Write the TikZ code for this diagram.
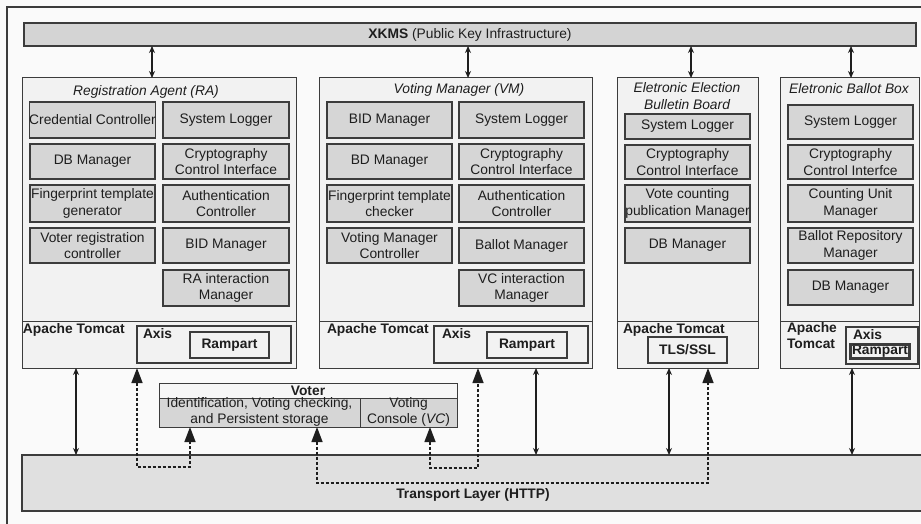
\documentclass[tikz,border=0pt]{standalone}
\usepackage{fontspec}
\setmainfont{Liberation Sans}
\usetikzlibrary{arrows.meta,calc}
\definecolor{bg}{HTML}{FAFAFA}
\definecolor{boxfill}{HTML}{F2F2F2}
\definecolor{subfill}{HTML}{D6D6D6}
\definecolor{barfill}{HTML}{D4D4D4}
\definecolor{transfill}{HTML}{E0E0E0}
\definecolor{headfill}{HTML}{F6F6F6}
\definecolor{edge}{HTML}{3C3C3C}
\definecolor{ink}{HTML}{1E1E1E}
\newcommand\myfs{\fontsize{13.8}{16.5}\selectfont}
\newcommand\rn[7]{\node[#2, minimum width={#5-#3}, minimum height={#6-#4}] (#1) at ({(#3+#5)/2},{(#4+#6)/2}) {#7};}
\begin{document}
\begin{tikzpicture}[x=1pt,y=-1pt,
  every node/.style={inner sep=0pt, outer sep=0pt, text=ink, font=\myfs, align=center},
  bigbox/.style={draw=edge, fill=boxfill, line width=1pt},
  subbox/.style={draw=edge, fill=subfill, line width=1.3pt},
  plainbox/.style={draw=edge, fill=boxfill, line width=1.2pt},
  bar/.style={draw=edge, fill=barfill, line width=1.2pt},
  trans/.style={draw=edge, fill=transfill, line width=1.2pt},
  headbox/.style={draw=edge, fill=headfill, line width=1pt},
  cellbox/.style={draw=edge, fill=subfill, line width=1pt},
  sepline/.style={draw=edge, line width=1pt},
  titletext/.style={font=\myfs\itshape},
  boldtext/.style={font=\myfs\bfseries},
  dblarrow/.style={line width=1.3pt, draw=ink, {Stealth[length=7pt,width=6pt]}-{Stealth[length=7pt,width=6pt]}},
  dasharrow/.style={line width=1.4pt, draw=ink, dash pattern=on 3pt off 2pt, {Triangle[length=15pt,width=11pt]}-{Triangle[length=15pt,width=11pt]}}
]
\useasboundingbox (0,0) rectangle (921,524);
\clip (0,0) rectangle (921,524);
\fill[bg] (0,0) rectangle (921,524);
\draw[edge, line width=1.2pt] (7,540) -- (7,7) -- (940,7);

% XKMS bar
\rn{xkms}{bar}{24}{23}{916}{46}{\textbf{XKMS} (Public Key Infrastructure)}

% Registration Agent
\rn{ra}{bigbox}{22}{78}{296}{368}{}
\draw[sepline] (ra.west |- 0,321) -- (ra.east |- 0,321);
\node[titletext] (ratitle) at (146,92) {Registration Agent (RA)};
\rn{ra1}{subbox}{30}{102}{155}{138}{Credential Controller}
\rn{ra2}{subbox}{30}{144}{155}{179}{DB Manager}
\rn{ra3}{subbox}{30}{185}{155}{222}{Fingerprint template\\generator}
\rn{ra4}{subbox}{30}{228}{155}{263}{Voter registration\\controller}
\rn{ra5}{subbox}{163}{102}{289}{138}{System Logger}
\rn{ra6}{subbox}{163}{144}{289}{179}{Cryptography\\Control Interface}
\rn{ra7}{subbox}{163}{185}{289}{222}{Authentication\\Controller}
\rn{ra8}{subbox}{163}{228}{289}{263}{BID Manager}
\rn{ra9}{subbox}{163}{270}{289}{306}{RA interaction\\Manager}
\node[boldtext, anchor=base west] (ratc) at (23,333) {Apache Tomcat};
\rn{raaxis}{plainbox}{137}{326}{291}{363}{}
\node[boldtext, anchor=base west] (raaxist) at (143,338) {Axis};
\rn{raramp}{plainbox}{190}{332}{269}{358}{\bfseries Rampart}

% Voting Manager
\rn{vm}{bigbox}{319}{78}{592}{368}{}
\draw[sepline] (vm.west |- 0,321) -- (vm.east |- 0,321);
\node[titletext] (vmtitle) at (459,90) {Voting Manager (VM)};
\rn{vm1}{subbox}{327}{102}{452}{138}{BID Manager}
\rn{vm2}{subbox}{327}{144}{452}{179}{BD Manager}
\rn{vm3}{subbox}{327}{185}{452}{222}{Fingerprint template\\checker}
\rn{vm4}{subbox}{327}{228}{452}{263}{Voting Manager\\Controller}
\rn{vm5}{subbox}{459}{102}{584}{138}{System Logger}
\rn{vm6}{subbox}{459}{144}{584}{179}{Cryptography\\Control Interface}
\rn{vm7}{subbox}{459}{185}{584}{222}{Authentication\\Controller}
\rn{vm8}{subbox}{459}{228}{584}{263}{Ballot Manager}
\rn{vm9}{subbox}{459}{270}{584}{306}{VC interaction\\Manager}
\node[boldtext, anchor=base west] (vmtc) at (327,333) {Apache Tomcat};
\rn{vmaxis}{plainbox}{434}{326}{588}{363}{}
\node[boldtext, anchor=base west] (vmaxist) at (442,338) {Axis};
\rn{vmramp}{plainbox}{487}{332}{567}{358}{\bfseries Rampart}

% Eletronic Election Bulletin Board
\rn{eeb}{bigbox}{617}{78}{758}{368}{}
\draw[sepline] (eeb.west |- 0,321) -- (eeb.east |- 0,321);
\node[titletext] (eebtitle) at (687,96) {Eletronic Election\\Bulletin Board};
\rn{eeb1}{subbox}{625}{114}{750}{139}{System Logger}
\rn{eeb2}{subbox}{625}{145}{750}{179}{Cryptography\\Control Interface}
\rn{eeb3}{subbox}{625}{185}{750}{222}{Vote counting\\publication Manager}
\rn{eeb4}{subbox}{625}{228}{750}{263}{DB Manager}
\node[boldtext, anchor=base west] (eebtc) at (623,333) {Apache Tomcat};
\rn{eebtls}{plainbox}{648}{337}{727}{363}{\bfseries TLS/SSL}

% Eletronic Ballot Box
\rn{ebb}{bigbox}{780}{78}{919}{368}{}
\draw[sepline] (ebb.west |- 0,321) -- (ebb.east |- 0,321);
\node[titletext] (ebbtitle) at (849,89) {Eletronic Ballot Box};
\rn{ebb1}{subbox}{788}{105}{913}{139}{System Logger}
\rn{ebb2}{subbox}{788}{145}{913}{179}{Cryptography\\Control Interfce}
\rn{ebb3}{subbox}{788}{185}{913}{222}{Counting Unit\\Manager}
\rn{ebb4}{subbox}{788}{228}{913}{263}{Ballot Repository\\Manager}
\rn{ebb5}{subbox}{788}{270}{913}{305}{DB Manager}
\node[boldtext, anchor=north west, align=left] (ebbtc) at (787,322) {Apache\\Tomcat};
\rn{ebbaxis}{plainbox}{846}{327}{918}{364}{}
\node[boldtext, anchor=base west] (ebbaxist) at (853,339) {Axis};
\rn{ebbramp}{plainbox}{850}{344}{910}{359}{\bfseries Rampart}
\draw[edge, line width=0.5pt] ([xshift=1.6pt,yshift=-1.6pt]ebbramp.north west) rectangle ([xshift=-1.6pt,yshift=1.6pt]ebbramp.south east);

% Transport layer
\rn{transport}{trans}{22}{455}{945}{511}{}
\node[boldtext] (translabel) at (473,495) {Transport Layer (HTTP)};

% Voter
\rn{voterhead}{headbox}{159}{383}{457}{398}{\bfseries Voter}
\rn{voterl}{cellbox}{159}{398}{360}{427}{}
\rn{voterr}{cellbox}{360}{398}{457}{427}{}
\node (voterltext) at (259.5,412) {Identification, Voting checking,\\and Persistent storage};
\node (voterrtext) at (408.5,412) {Voting\\Console (\textit{VC})};

% XKMS arrows
\draw[dblarrow] (xkms.south -| 152,0) -- (ra.north -| 152,0);
\draw[dblarrow] (xkms.south -| 468,0) -- (vm.north -| 468,0);
\draw[dblarrow] (xkms.south -| 691,0) -- (eeb.north -| 691,0);
\draw[dblarrow] (xkms.south -| 851,0) -- (ebb.north -| 851,0);

% Transport arrows
\draw[dblarrow] (ra.south -| 76,0) -- (transport.north -| 76,0);
\draw[dblarrow] (vm.south -| 536,0) -- (transport.north -| 536,0);
\draw[dblarrow] (eeb.south -| 669,0) -- (transport.north -| 669,0);
\draw[dblarrow] (ebb.south -| 852,0) -- (transport.north -| 852,0);

% Dashed connections
\draw[dasharrow] (ra.south -| 137,0) |- (190,467) -- (voterl.south -| 190,0);
\draw[dasharrow] (voterl.south -| 317,0) |- (708,483) -- (eeb.south -| 708,0);
\draw[dasharrow] (voterr.south -| 430,0) |- (478,468) -- (vm.south -| 478,0);
\end{tikzpicture}
\end{document}
